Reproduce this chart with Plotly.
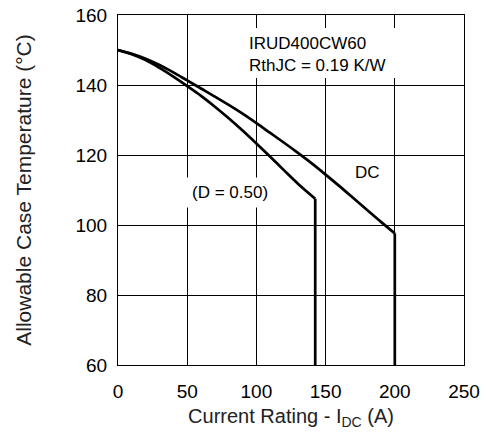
import plotly.graph_objects as go

# DC curve (smooth part) and its vertical cut-off
dc_current = [0, 10, 20, 30, 40, 50, 60, 70, 80, 90, 100, 110, 120, 130, 140, 150, 160, 170, 180, 190, 200]
dc_temp = [150, 148.9, 147.5, 145.7, 143.6, 141.3, 139.0, 136.7, 134.3, 131.8, 129.1, 126.3, 123.5, 120.6, 117.6, 114.4, 111.1, 107.7, 104.3, 100.9, 97.6]
dc_drop_current = [200, 200]
dc_drop_temp = [97.6, 60]

# D = 0.50 curve (smooth part) and its vertical cut-off
d50_current = [0, 10, 20, 30, 40, 50, 60, 70, 80, 90, 100, 110, 120, 130, 142.5]
d50_temp = [150, 148.8, 147.1, 144.9, 142.4, 139.7, 136.9, 133.8, 130.5, 127.0, 123.3, 119.5, 115.6, 111.8, 107.5]
d50_drop_current = [142.5, 142.5]
d50_drop_temp = [107.5, 60]

x_ticks = [0, 50, 100, 150, 200, 250]
y_ticks = [60, 80, 100, 120, 140, 160]

FONT = "Arial, Liberation Sans, sans-serif"
LW = 2.7

fig = go.Figure()
fig.add_trace(go.Scatter(x=dc_current, y=dc_temp, mode="lines", line_shape="spline",
                         line=dict(color="black", width=LW), showlegend=False))
fig.add_trace(go.Scatter(x=dc_drop_current, y=dc_drop_temp, mode="lines",
                         line=dict(color="black", width=LW), showlegend=False))
fig.add_trace(go.Scatter(x=d50_current, y=d50_temp, mode="lines", line_shape="spline",
                         line=dict(color="black", width=LW), showlegend=False))
fig.add_trace(go.Scatter(x=d50_drop_current, y=d50_drop_temp, mode="lines",
                         line=dict(color="black", width=LW), showlegend=False))

# white background box behind the device label
fig.add_shape(type="rect", xref="x", yref="y", x0=92, x1=204, y0=142, y1=156.3,
              fillcolor="white", line=dict(width=0), layer="above")

fig.add_annotation(x=93, y=148.8, xref="x", yref="y", xanchor="left", yanchor="middle",
                   text="IRUD400CW60<br>RthJC = 0.19 K/W", showarrow=False, align="left",
                   font=dict(family=FONT, size=17, color="black"))
fig.add_annotation(x=80.6, y=109.4, xref="x", yref="y", xanchor="center", yanchor="middle",
                   text="(D = 0.50)", showarrow=False, bgcolor="white", borderpad=5,
                   font=dict(family=FONT, size=17, color="black"))
fig.add_annotation(x=180.6, y=115.1, xref="x", yref="y", xanchor="center", yanchor="middle",
                   text="DC", showarrow=False,
                   font=dict(family=FONT, size=17, color="black"))

axis_common = dict(showgrid=True, gridcolor="black", gridwidth=1,
                   showline=True, linecolor="black", linewidth=1, mirror=True,
                   ticks="", zeroline=False,
                   tickfont=dict(family=FONT, size=19, color="black"))

fig.update_xaxes(range=[0, 250], tickvals=x_ticks, ticklabelstandoff=9,
                 title=dict(text="Current Rating - I<sub>DC</sub> (A)", standoff=8,
                            font=dict(family=FONT, size=20, color="#222")),
                 **axis_common)
fig.update_yaxes(range=[60, 160], tickvals=y_ticks, ticklabelstandoff=6,
                 title=dict(text="Allowable Case Temperature (°C)", standoff=38,
                            font=dict(family=FONT, size=21, color="#222")),
                 **axis_common)

fig.update_layout(width=488, height=434, margin=dict(l=118, r=24, t=15, b=69, autoexpand=False),
                  plot_bgcolor="white", paper_bgcolor="white")

fig.write_html("out.html")
